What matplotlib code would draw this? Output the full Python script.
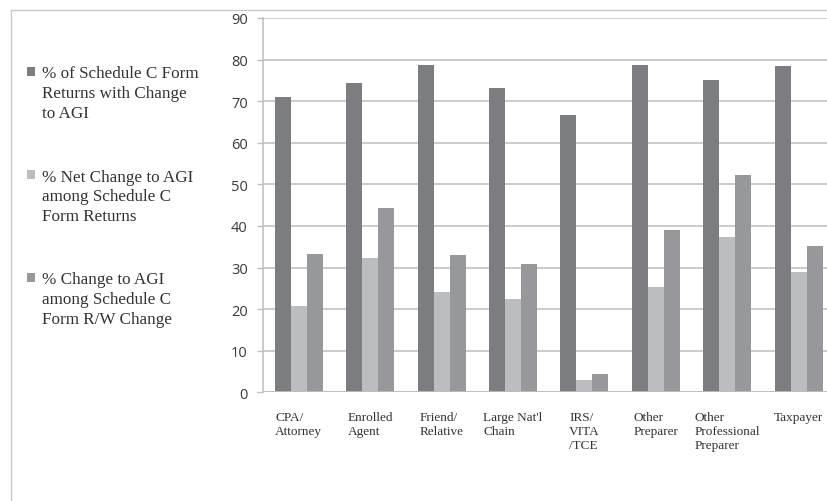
import matplotlib
matplotlib.use("Agg")
import matplotlib.pyplot as plt
from matplotlib.patches import Rectangle
import numpy as np

categories = ["CPA/\nAttorney", "Enrolled\nAgent", "Friend/\nRelative", "Large Nat'l\nChain",
              "IRS/\nVITA\n/TCE", "Other\nPreparer", "Other\nProfessional\nPreparer", "Taxpayer"]
series_names = ["% of Schedule C Form\nReturns with Change\nto AGI",
                "% Net Change to AGI\namong Schedule C\nForm Returns",
                "% Change to AGI\namong Schedule C\nForm R/W Change"]
pct_with_change = [71.1, 74.4, 78.8, 73.2, 66.7, 78.8, 75.2, 78.5]
pct_net_change = [20.7, 32.3, 24.0, 22.5, 2.9, 25.3, 37.3, 29.0]
pct_change_rw = [33.2, 44.3, 32.9, 30.8, 4.4, 39.1, 52.3, 35.1]
yticks = [0, 10, 20, 30, 40, 50, 60, 70, 80, 90]

colors = ["#7c7d81", "#bcbdc1", "#97989c"]
W, H = 828, 502
fig = plt.figure(figsize=(W / 100, H / 100), dpi=100)
ax = fig.add_axes([263 / W, (H - 393.3) / H, 571.4 / W, 374.3 / H])

x = np.arange(len(categories))
bw = 0.224
for i, vals in enumerate([pct_with_change, pct_net_change, pct_change_rw]):
    ax.bar(x + (i - 1) * bw, vals, width=bw, color=colors[i], zorder=3, linewidth=0)

ax.set_xlim(-0.5, len(categories) - 0.5)
ax.set_ylim(0, 90)
ax.set_yticks(yticks)
ax.set_yticklabels([str(t) for t in yticks], fontfamily="Open Sans", fontsize=10.5, color="#3a3a3a")
ax.yaxis.grid(True, color="#bdbdbd", linewidth=1.1, zorder=0)
ax.set_axisbelow(True)
for s in ["top", "right", "bottom"]:
    ax.spines[s].set_visible(False)
ax.spines["left"].set_color("#bdbdbd")
ax.spines["left"].set_linewidth(1.1)
ax.axhline(0, color="#bdbdbd", linewidth=1.3, zorder=4)
ax.tick_params(axis="y", length=4, width=1.0, color="#bdbdbd", pad=7)
ax.tick_params(axis="x", length=0)
ax.set_xticks([])

for xi, lab in zip(x, categories):
    ax.text(xi, -4.6, lab, ha="center", va="top", multialignment="left",
            fontfamily="Liberation Serif", fontsize=9.5, color="#333333", linespacing=1.19)

# border
fig.add_artist(Rectangle((11.5 / W, -0.1), 1.2, (H - 10.5) / H + 0.1, transform=fig.transFigure,
                         fill=False, edgecolor="#c8c8c8", linewidth=1.0))

# legend
leg_tops = [68, 171, 274]
for name, c, t in zip(series_names, colors, leg_tops):
    fig.add_artist(Rectangle((27 / W, (H - t - 8.5) / H), 8.5 / W, 8.5 / H, transform=fig.transFigure,
                             facecolor=c, edgecolor="none"))
    fig.text(42 / W, (H - t + 1.5) / H, name, ha="left", va="top", fontfamily="Liberation Serif",
             fontsize=12.3, color="#333333", linespacing=1.31)

fig.savefig("out.png", dpi=100)
